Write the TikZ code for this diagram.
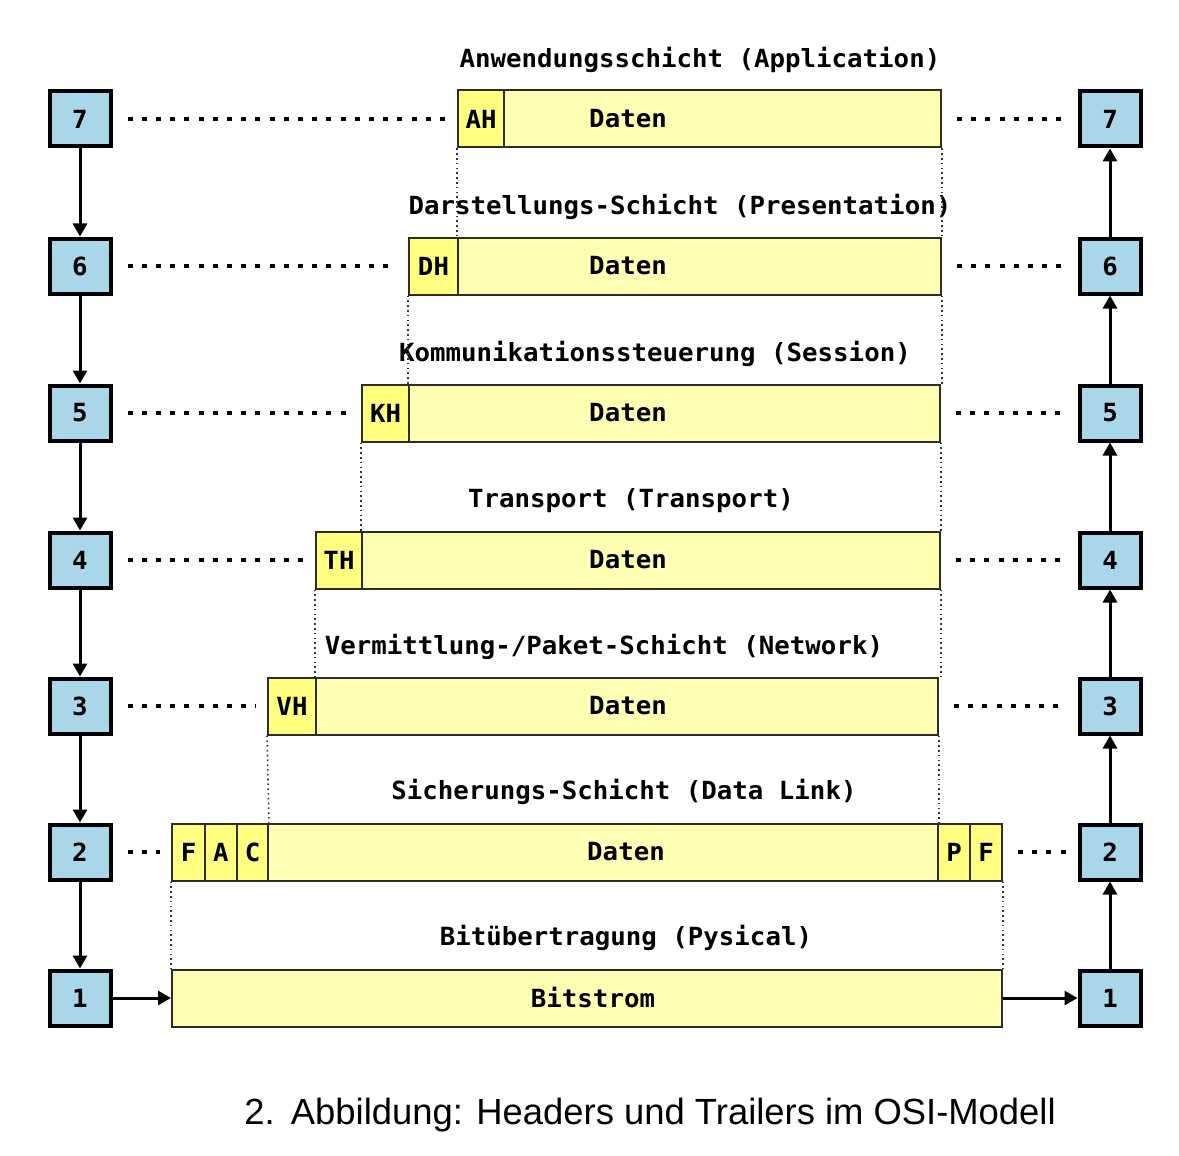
\documentclass[tikz,border=0pt]{standalone}
\usepackage{fontspec}
\usetikzlibrary{arrows.meta}
\newfontfamily\pixfont[FakeStretch=1.03]{DejaVu Sans Mono}
\newfontfamily\capfont{Liberation Sans}
\definecolor{osiblue}{RGB}{170,214,234}
\definecolor{osihdr}{RGB}{255,255,128}
\definecolor{osidat}{RGB}{255,255,180}
\definecolor{osiedge}{RGB}{45,45,35}

\begin{document}
\begin{tikzpicture}[
    x=0.5pt, y=-0.5pt,
    >={Triangle[length=6.5pt,width=7pt]},
    tag/.style={font=\pixfont\bfseries\fontsize{12.5}{14}\selectfont, inner sep=0pt},
    blk/.style={tag, draw=black, fill=osiblue, line width=2pt, minimum width=30.5pt, minimum height=27.5pt},
    hdr/.style={tag, draw=osiedge, fill=osihdr, line width=1pt, minimum height=28.5pt},
    dat/.style={tag, draw=osiedge, fill=osidat, line width=1pt, minimum height=28.5pt},
    dots/.style={draw=black, line width=2.2pt, dash pattern=on 2.5pt off 4.6pt, shorten <=7.5pt, shorten >=5.5pt},
    guide/.style={draw=black!80, line width=0.8pt, dash pattern=on 0.8pt off 1.6pt},
    link/.style={draw=black, line width=1.5pt},
  ]
  \useasboundingbox (0,0) rectangle (1179,1156);

  %% ============ layers 7 ... 3: header + data ============
  \foreach \n/\y/\xl/\xr/\xe/\hd/\ttl/\tx in {
      7/119/458/504/941/AH/{Anwendungsschicht (Application)}/700,
      6/266/409/458/941/DH/{Darstellungs-Schicht (Presentation)}/680,
      5/413/362/409/940/KH/{Kommunikationssteuerung (Session)}/655,
      4/560/316/362/940/TH/{Transport (Transport)}/631,
      3/706/268/316/938/VH/{Vermittlung-/Paket-Schicht (Network)}/604} {
    \node[hdr, minimum width={(\xr-\xl)*0.5pt}] (H\n) at ({(\xl+\xr)/2},\y) {\hd};
    \node[dat, minimum width={(\xe-\xr)*0.5pt}] (D\n) at ({(\xr+\xe)/2},\y) {};
    \node[tag] (dt\n) at (628,\y) {Daten};
    \node[tag] (ttl\n) at (\tx,{\y-59}) {\ttl};
    \node[blk] (L\n) at (80,\y) {\n};
    \node[blk] (R\n) at (1110,\y) {\n};
    \draw[dots] (L\n) -- (H\n);
    \draw[dots] (D\n) -- (R\n);
  }

  %% ============ layer 2: frame with header and trailer ============
  \node[hdr, minimum width=16.5pt] (F1) at (188.5,852) {F};
  \node[hdr, minimum width=16pt]   (A)  at (221,852)   {A};
  \node[hdr, minimum width=15.5pt] (C)  at (252.5,852) {C};
  \node[dat, minimum width=335pt]  (D2) at (603,852)   {};
  \node[tag] (dt2) at (626,852) {Daten};
  \node[hdr, minimum width=16pt]   (P)  at (954,852)   {P};
  \node[hdr, minimum width=16pt]   (F2) at (986,852)   {F};
  \node[tag] (ttl2) at (624,792) {Sicherungs-Schicht (Data Link)};
  \node[blk] (L2) at (80,852) {2};
  \node[blk] (R2) at (1110,852) {2};
  \draw[dots] (L2) -- (F1);
  \draw[dots] (F2) -- (R2);

  %% ============ layer 1: bit stream ============
  \node[dat, minimum width=415pt] (B) at (587,998) {};
  \node[tag] (bs) at (593,998) {Bitstrom};
  \node[tag] (ttl1) at (626,938) {Bitübertragung (Pysical)};
  \node[blk] (L1) at (80,998) {1};
  \node[blk] (R1) at (1110,998) {1};

  % dotted guides: each header sits in front of the layer above
  \foreach \a/\b in {7/6,6/5,5/4,4/3} {
    \draw[guide] (H\a.south west) -- (D\b.north west);
    \draw[guide] (D\a.south east) -- (D\a.south east |- D\b.north);
  }
  \draw[guide] (H3.south west) -- (C.north east);
  \draw[guide] (D3.south east) -- (D2.north east);
  \draw[guide] (F1.south west) -- (B.north west);
  \draw[guide] (F2.south east) -- (B.north east);

  % down the sender stack, across, up the receiver stack
  \foreach \a/\b in {7/6,6/5,5/4,4/3,3/2,2/1} {
    \draw[link,->] (L\a) -- (L\b);
    \draw[link,->] (R\b) -- (R\a);
  }
  \draw[link,->] (L1) -- (B);
  \draw[link,->] (B) -- (R1);

  \node[font=\capfont\fontsize{18.2}{21}\selectfont, inner sep=0pt] (cap) at (650,1115)
    {2.\hspace{0.45em}Abbildung: Headers und Trailers im OSI-Modell};
\end{tikzpicture}
\end{document}
